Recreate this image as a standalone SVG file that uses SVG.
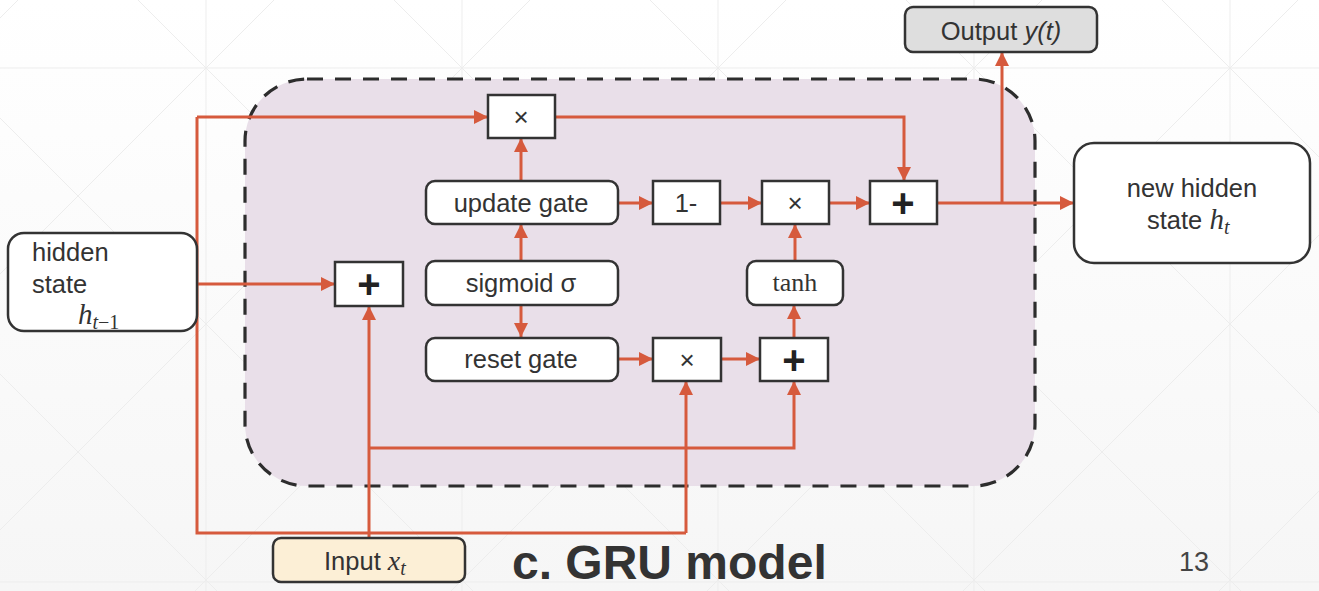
<svg xmlns="http://www.w3.org/2000/svg" width="1319" height="591" viewBox="0 0 1319 591">
  <defs>
    <linearGradient id="bg" x1="0" y1="0" x2="0" y2="1">
      <stop offset="0" stop-color="#ffffff"/>
      <stop offset="1" stop-color="#f6f6f6"/>
    </linearGradient>
    <marker id="arrow" viewBox="0 0 14 14" refX="14" refY="7" markerWidth="14" markerHeight="14" markerUnits="userSpaceOnUse" orient="auto">
      <path d="M0,0 L14,7 L0,14 Z" fill="#d65a3d"/>
    </marker>
    <style>
      .grid { stroke: #ededed; stroke-width: 1; fill: none; }
      .box { fill: #ffffff; stroke: #333333; stroke-width: 2.5; }
      .wire { fill: none; stroke: #d65a3d; stroke-width: 3; }
      .arr { marker-end: url(#arrow); }
      .lbl { font-family: "Liberation Sans", Arial, sans-serif; font-size: 25.5px; fill: #333333; }
      .mid { text-anchor: middle; }
      .op { font-family: "Liberation Sans", Arial, sans-serif; font-size: 26px; fill: #333333; text-anchor: middle; }
      .plus { font-family: "Liberation Sans", Arial, sans-serif; font-size: 40px; font-weight: bold; fill: #222222; text-anchor: middle; }
      .math { font-family: "Liberation Serif", "Times New Roman", serif; font-style: italic; fill: #333333; }
    </style>
  </defs>

  <!-- backdrop -->
  <rect width="1319" height="591" fill="url(#bg)"/>
  <g id="backdrop-grid" class="grid">
    <path d="M206,0V591 M462,0V591 M718,0V591 M974,0V591 M1230,0V591 M0,68H1319 M0,582H1319"/>
    <path d="M-630,0L-39,591 M-374,0L217,591 M-118,0L473,591 M138,0L729,591 M394,0L985,591 M650,0L1241,591 M906,0L1497,591 M1162,0L1753,591"/>
    <path d="M18,0L-573,591 M274,0L-317,591 M530,0L-61,591 M786,0L195,591 M1042,0L451,591 M1298,0L707,591 M1554,0L963,591 M1810,0L1219,591"/>
  </g>

  <!-- GRU cell boundary -->
  <g id="cell">
    <rect x="245" y="79" width="790" height="407" rx="62" ry="62" fill="#e9dfe9" stroke="#2d2d2d" stroke-width="3.2" stroke-dasharray="16 12"/>
  </g>

  <!-- connectors -->
  <g id="connectors">
    <!-- previous hidden state fan-out -->
    <path class="wire arr" d="M197,117H488"/>
    <path class="wire" d="M197,117V533H686"/>
    <path class="wire arr" d="M686,533V381"/>
    <path class="wire arr" d="M197,284H335"/>
    <!-- input fan-out -->
    <path class="wire arr" d="M369,538V306"/>
    <path class="wire arr" d="M369,448H794V381"/>
    <!-- gates -->
    <path class="wire arr" d="M521,181V138"/>
    <path class="wire arr" d="M521,260V224"/>
    <path class="wire arr" d="M521,305V337"/>
    <path class="wire arr" d="M618,203H653"/>
    <path class="wire arr" d="M720,203H762"/>
    <path class="wire arr" d="M829,203H870"/>
    <path class="wire arr" d="M555,117H904V181"/>
    <path class="wire arr" d="M618,359H653"/>
    <path class="wire arr" d="M721,359H760"/>
    <path class="wire arr" d="M794,337V305"/>
    <path class="wire arr" d="M795,260V224"/>
    <!-- outputs -->
    <path class="wire arr" d="M937,203H1074"/>
    <path class="wire arr" d="M1002,203V52"/>
  </g>

  <!-- nodes -->
  <g id="hidden-prev">
    <rect class="box" x="8" y="233" width="189" height="98" rx="16"/>
    <text class="lbl" x="32" y="261">hidden</text>
    <text class="lbl" x="32" y="293">state</text>
    <text class="math" x="78" y="324" font-size="29">h<tspan font-size="20" dy="5">t</tspan><tspan font-size="20" font-style="normal">−1</tspan></text>
  </g>

  <g id="mul-top">
    <rect class="box" x="488" y="95" width="67" height="43"/>
    <text class="op" x="521" y="126">×</text>
  </g>

  <g id="update-gate">
    <rect class="box" x="426" y="181" width="192" height="43" rx="9"/>
    <text class="lbl mid" x="521" y="212">update gate</text>
  </g>

  <g id="one-minus">
    <rect class="box" x="653" y="181" width="67" height="43"/>
    <text class="lbl mid" x="686" y="212">1-</text>
  </g>

  <g id="mul-mid">
    <rect class="box" x="762" y="181" width="67" height="43"/>
    <text class="op" x="795" y="212">×</text>
  </g>

  <g id="add-out">
    <rect class="box" x="870" y="181" width="67" height="43"/>
    <text class="plus" x="903" y="217">+</text>
  </g>

  <g id="add-in">
    <rect class="box" x="335" y="262" width="68" height="44"/>
    <text class="plus" x="369" y="298">+</text>
  </g>

  <g id="sigmoid">
    <rect class="box" x="426" y="261" width="192" height="44" rx="9"/>
    <text class="lbl mid" x="521" y="292">sigmoid σ</text>
  </g>

  <g id="tanh">
    <rect class="box" x="747" y="261" width="96" height="44" rx="9"/>
    <text x="795" y="291" text-anchor="middle" font-family="Liberation Serif, Times New Roman, serif" font-size="26" fill="#333333">tanh</text>
  </g>

  <g id="reset-gate">
    <rect class="box" x="426" y="338" width="192" height="43" rx="9"/>
    <text class="lbl mid" x="521" y="368">reset gate</text>
  </g>

  <g id="mul-reset">
    <rect class="box" x="653" y="338" width="68" height="43"/>
    <text class="op" x="687" y="369">×</text>
  </g>

  <g id="add-cand">
    <rect class="box" x="760" y="338" width="68" height="43"/>
    <text class="plus" x="794" y="374">+</text>
  </g>

  <g id="output">
    <rect x="905" y="7" width="192" height="45" rx="8" fill="#dedede" stroke="#333333" stroke-width="2.5"/>
    <text class="lbl mid" x="1001" y="40">Output <tspan font-style="italic">y(t)</tspan></text>
  </g>

  <g id="hidden-new">
    <rect class="box" x="1074" y="143" width="236" height="120" rx="20"/>
    <text class="lbl mid" x="1192" y="197">new hidden</text>
    <text class="lbl" x="1147" y="229">state <tspan class="math" font-size="29">h</tspan><tspan class="math" font-size="20" dy="5">t</tspan></text>
  </g>

  <g id="input">
    <rect x="273" y="538" width="192" height="44" rx="8" fill="#fcefd6" stroke="#333333" stroke-width="2.5"/>
    <text class="lbl" x="324" y="570">Input <tspan class="math" font-size="28">x</tspan><tspan class="math" font-size="20" dy="5">t</tspan></text>
  </g>

  <!-- caption and page number -->
  <text x="512" y="579" font-family="Liberation Sans, Arial, sans-serif" font-size="48" font-weight="bold" fill="#333333">c. GRU model</text>
  <text x="1179" y="571" font-family="Liberation Sans, Arial, sans-serif" font-size="27" fill="#444444">13</text>
</svg>
